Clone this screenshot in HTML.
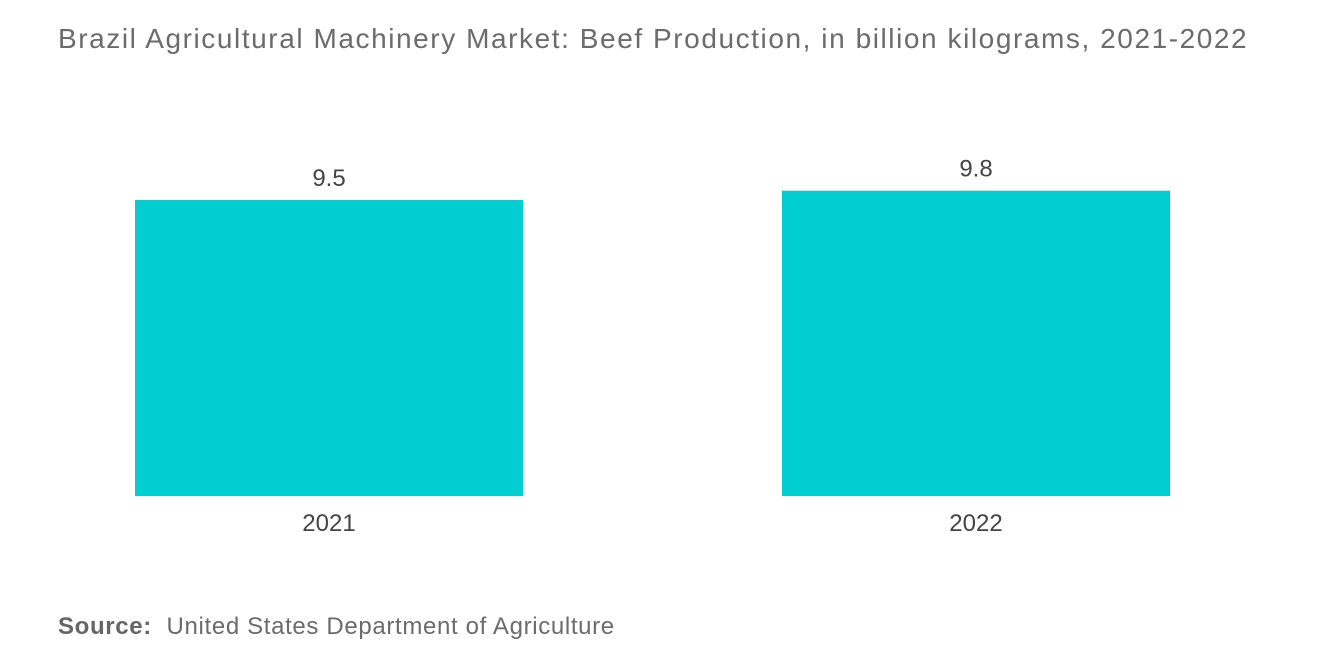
<!DOCTYPE html>
<html><head><meta charset="utf-8"><style>
body{margin:0;width:1320px;height:665px;background:#fff;font-family:"Liberation Sans",sans-serif;overflow:hidden;position:relative}
.title{position:absolute;left:58px;top:23px;font-size:28px;color:#6b6b6b;white-space:nowrap;letter-spacing:1.57px}
.src{position:absolute;left:58px;top:613px;font-size:24px;color:#6b6b6b;letter-spacing:0.65px;white-space:nowrap}
.src b{font-weight:bold;color:#666}
</style></head><body>
<div class="title">Brazil Agricultural Machinery Market: Beef Production, in billion kilograms, 2021-2022</div>
<svg id="chart" width="1320" height="665" style="position:absolute;left:0;top:0"></svg>
<div class="src"><b>Source:</b>&nbsp;&nbsp;United States Department of Agriculture</div>
<script>
const categories=["2021","2022"];
const values=[9.5,9.8];
const labels=["9.5","9.8"];
const svg=document.getElementById('chart');
const NS="http://www.w3.org/2000/svg";
const baseY=496, scale=296/9.5, x0=135, step=647, bw=388;
function y(v){return baseY-v*scale;}
function x(i){return x0+i*step;}
categories.forEach((c,i)=>{
  const r=document.createElementNS(NS,'rect');
  r.setAttribute('x',x(i));r.setAttribute('y',y(values[i]));
  r.setAttribute('width',bw);r.setAttribute('height',baseY-y(values[i]));
  r.setAttribute('fill','#00ced1');
  
  
  svg.appendChild(r);
  const t=document.createElementNS(NS,'text');
  t.setAttribute('x',x(i)+bw/2);t.setAttribute('y',y(values[i])-14);
  t.setAttribute('text-anchor','middle');t.setAttribute('font-size','24');t.setAttribute('fill','#444');
  t.setAttribute('font-family','Liberation Sans, sans-serif');
  t.textContent=labels[i];
  
  
  svg.appendChild(t);
  const a=document.createElementNS(NS,'text');
  a.setAttribute('x',x(i)+bw/2);a.setAttribute('y',531);
  a.setAttribute('text-anchor','middle');a.setAttribute('font-size','24');a.setAttribute('fill','#444');
  a.setAttribute('font-family','Liberation Sans, sans-serif');
  a.textContent=c;
  
  
  svg.appendChild(a);
});
</script>
</body></html>
